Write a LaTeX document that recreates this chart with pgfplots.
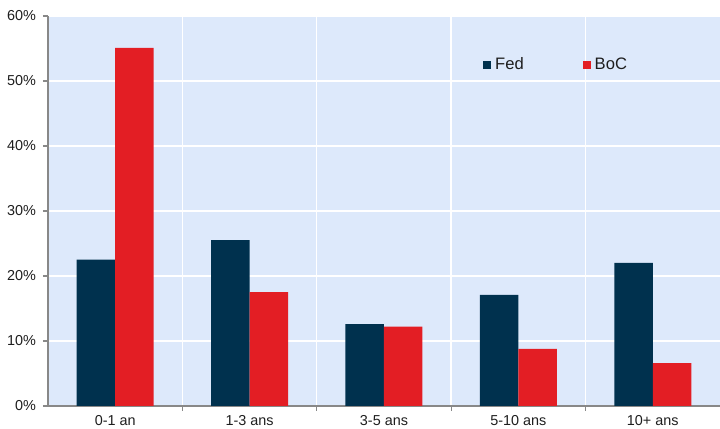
\documentclass[border=0pt]{standalone}
\usepackage{pgfplots}
\pgfplotsset{compat=1.18}
\usepackage{fontspec}
\setmainfont{Liberation Sans}

\definecolor{fedblue}{RGB}{0,49,78}
\definecolor{bocred}{RGB}{227,30,36}
\definecolor{plotbg}{RGB}{221,233,251}
\definecolor{axisgray}{RGB}{136,136,136}
\definecolor{labeltext}{RGB}{30,30,30}

\begin{document}
\begin{tikzpicture}
\begin{axis}[
  at={(0,0)}, anchor=south west,
  scale only axis,
  width=336pt, height=195pt,
  xmin=-0.5, xmax=4.5,
  ymin=0, ymax=60,
  ybar=0pt,
  bar width=19.25pt,
  axis background/.style={fill=plotbg},
  axis x line*=bottom,
  axis y line*=left,
  axis line style={draw=axisgray, line width=0.6pt},
  xtick={0,1,2,3,4},
  xticklabels={0-1 an,1-3 ans,3-5 ans,5-10 ans,10+ ans},
  major x tick style={draw=none},
  minor xtick={0.5,1.5,2.5,3.5},
  minor x tick style={draw=axisgray, line width=0.6pt},
  minor tick length=2.5pt,
  xminorgrids,
  minor x grid style={white, line width=0.7pt},
  ytick={0,10,20,30,40,50,60},
  yticklabels={0\%,10\%,20\%,30\%,40\%,50\%,60\%},
  ymajorgrids,
  major y grid style={white, line width=0.7pt},
  major y tick style={draw=axisgray, line width=0.6pt},
  major tick length=2.5pt,
  tick align=outside,
  ticklabel style={font=\fontsize{7.2}{8.5}\selectfont, text=labeltext},
  xticklabel style={yshift=1.2pt},
  legend columns=2,
  legend style={
    at={(0.638,0.874)}, anchor=west,
    draw=none, fill=none,
    font=\fontsize{8.3}{10}\selectfont,
    text=labeltext,
    /tikz/every even column/.append style={column sep=27.5pt},
  },
  legend image code/.code={\fill[#1] (0pt,-2pt) rectangle (4pt,2pt);},
]
\addplot[fill=fedblue, draw=none] coordinates {
  (0,22.5) (1,25.5) (2,12.6) (3,17.1) (4,22.0)
};
\addplot[fill=bocred, draw=none] coordinates {
  (0,55.1) (1,17.5) (2,12.2) (3,8.8) (4,6.6)
};
\legend{Fed,BoC}
\end{axis}
\pgfresetboundingbox
\path (-24pt,-11.5pt) rectangle (336pt,203pt);
\end{tikzpicture}
\end{document}
